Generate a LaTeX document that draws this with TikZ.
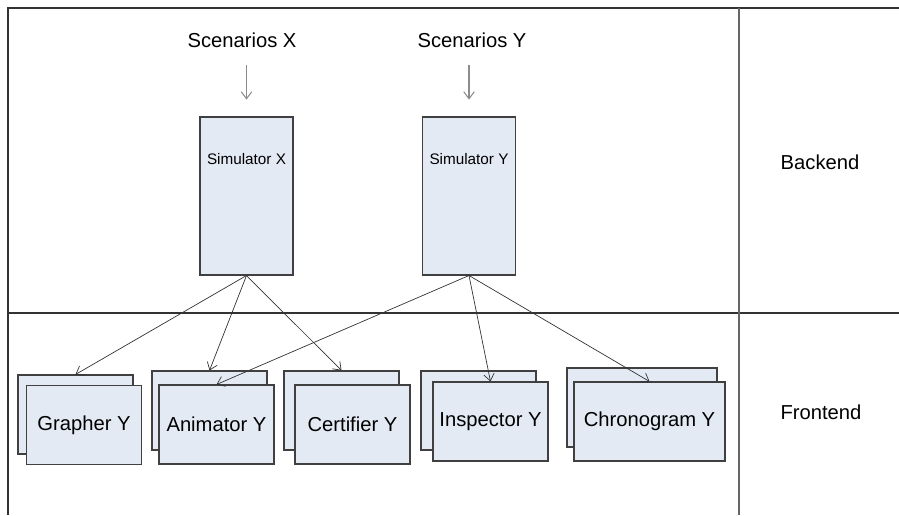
\documentclass[tikz,border=0pt]{standalone}
\usepackage{fontspec}
\setmainfont{Liberation Sans}
\usetikzlibrary{arrows.meta,calc}
\definecolor{boxblue}{HTML}{E4EAF4}
\tikzset{>={Straight Barb[length=4pt,width=6pt]},every node/.style={font=\fontsize{11.5}{13}\selectfont,inner sep=0pt},
frame/.style={draw=black!80,line width=.6pt},
sim/.style={draw=black!75,fill=boxblue,line width=.6pt,minimum width=1.86cm,minimum height=3.16cm},
tool/.style={draw=black!75,fill=boxblue,line width=.6pt,minimum width=2.3cm,minimum height=1.58cm},
small/.style={font=\fontsize{8.7}{10}\selectfont},
link/.style={->,black!80,line width=.4pt},
feed/.style={->,black!45,line width=.6pt,shorten <=10pt,shorten >=9.6pt}}

\begin{document}
\begin{tikzpicture}[x=0.02cm,y=-0.02cm]
\useasboundingbox (0,0) rectangle (899,515);
\draw[frame] (899,8)--(8,8)--(8,515);
\draw[frame] (8,313)--(899,313);
\draw[frame,draw=black!60] (739,8)--(739,515);
\node (scenX) at (242,40) {Scenarios X};
\node (scenY) at (472,40) {Scenarios Y};
\node[sim] (simX) at (246.5,196) {};
\node[sim] (simY) at (469,196) {};
\node[small] at ($(simX.north)+(0,43)$) {Simulator X};
\node[small] at ($(simY.north)+(0,43)$) {Simulator Y};
\draw[feed] (scenX.south-|simX.north)--(simX.north);
\draw[feed] (scenY.south-|simY.north)--(simY.north);
\node (back) at (820,162) {Backend};
\node (front) at (821,412) {Frontend};
\node[tool] (grapherB) at (75.5,414.5) {};
\node[tool] (grapher) at (84,425) {Grapher Y};
\node[tool] (animatorB) at (209.5,410.5) {};
\node[tool] (animator) at (216.5,424.5) {Animator Y};
\node[tool] (certifierB) at (341.5,410.5) {};
\node[tool] (certifier) at (352.5,424.5) {Certifier Y};
\node[tool] (inspectorB) at (478.5,410.5) {};
\node[tool] (inspector) at (490.5,421.5) {Inspector Y};
\node[tool,minimum width=3cm] (chronogramB) at (642,407.5) {};
\node[tool,minimum width=3.02cm] (chronogram) at (649.5,421.5) {Chronogram Y};
\foreach \t in {grapherB,animatorB,certifierB} \draw[link] (simX.south)--(\t.north);
\foreach \t in {animator,inspector,chronogram} \draw[link] (simY.south)--(\t.north);
\end{tikzpicture}
\end{document}
